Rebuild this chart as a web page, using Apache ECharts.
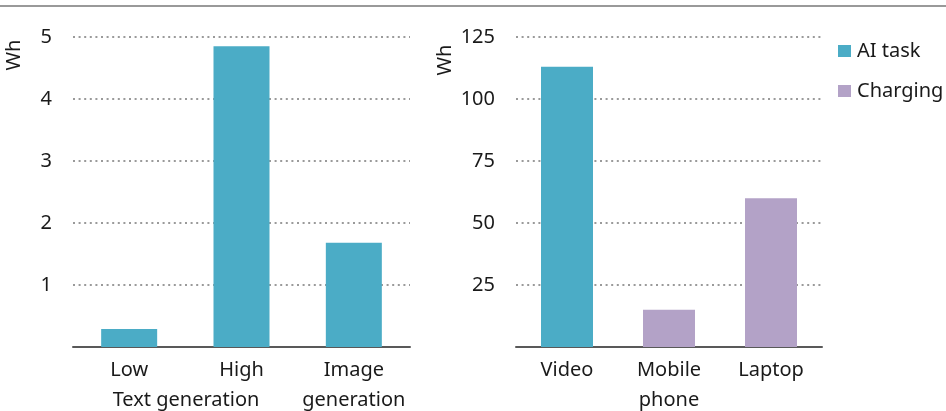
<!DOCTYPE html>
<html>
<head>
<meta charset="utf-8">
<script src="https://cdn.jsdelivr.net/npm/echarts@6/dist/echarts.min.js"></script>
<style>
  html, body { margin: 0; padding: 0; background: #fff; }
  #chart { width: 946px; height: 411px; }
</style>
</head>
<body>
<div id="chart"></div>
<script>
// left panel: AI task energy per query
const textCategories = ['Low', 'High', 'Image\ngeneration']
const textValues = [0.29, 4.85, 1.68]

// right panel: video vs device charging
const compareCategories = ['Video', 'Mobile\nphone', 'Laptop']
const aiTaskValues = [113, '-', '-']
const chargingValues = ['-', 15, 60]

const leftTicks = [0, 1, 2, 3, 4, 5]
const rightTicks = [0, 25, 50, 75, 100, 125]

const teal = '#4bacc6'
const purple = '#b3a2c7'
const font = 'Noto Sans'
const fontSize = 20

const chart = echarts.init(document.getElementById('chart'))

const yAxisBase = (ticks) => ({
  type: 'value',
  min: ticks[0],
  max: ticks[ticks.length - 1],
  interval: ticks[1] - ticks[0],
  axisLine: { show: false },
  axisTick: { show: false },
  axisLabel: {
    color: '#1a1a1a',
    fontSize: fontSize,
    fontFamily: font,
    margin: 21,
    formatter: (v) => (v === 0 ? '' : v),
  },
  splitLine: {
    lineStyle: { color: '#9a9a9a', width: 2, type: [2, 3.6] },
  },
})

const xAxisBase = (cats) => ({
  type: 'category',
  data: cats,
  axisTick: { show: false },
  axisLine: { lineStyle: { color: '#595959', width: 2 } },
  axisLabel: {
    color: '#1a1a1a',
    fontSize: fontSize,
    fontFamily: font,
    margin: 8,
    lineHeight: 30,
    interval: 0,
  },
})

chart.setOption({
  animation: false,
  grid: [
    { left: 73, right: 536, top: 37, bottom: 64, outerBoundsMode: 'none', containLabel: false },
    { left: 516, right: 124, top: 37, bottom: 64, outerBoundsMode: 'none', containLabel: false },
  ],
  legend: {
    data: ['AI task', 'Charging'],
    orient: 'vertical',
    left: 838,
    top: 38,
    padding: 0,
    icon: 'rect',
    itemWidth: 13,
    itemHeight: 12,
    itemGap: 14,
    textStyle: { fontSize: fontSize, fontFamily: font, color: '#1a1a1a', lineHeight: 26, padding: [0, 0, 0, 1] },
  },
  xAxis: [
    { ...xAxisBase(textCategories), gridIndex: 0 },
    { ...xAxisBase(compareCategories), gridIndex: 1 },
  ],
  yAxis: [
    { ...yAxisBase(leftTicks), gridIndex: 0 },
    { ...yAxisBase(rightTicks), gridIndex: 1 },
  ],
  series: [
    {
      name: 'AI task',
      type: 'bar',
      xAxisIndex: 0,
      yAxisIndex: 0,
      data: textValues,
      barWidth: 56,
      itemStyle: { color: teal },
    },
    {
      name: 'AI task',
      type: 'bar',
      xAxisIndex: 1,
      yAxisIndex: 1,
      data: aiTaskValues,
      barWidth: 52,
      barGap: '-100%',
      itemStyle: { color: teal },
    },
    {
      name: 'Charging',
      type: 'bar',
      xAxisIndex: 1,
      yAxisIndex: 1,
      data: chargingValues,
      barWidth: 52,
      barGap: '-100%',
      itemStyle: { color: purple },
    },
  ],
  graphic: [
    {
      type: 'line',
      shape: { x1: 0, y1: 6, x2: 946, y2: 6 },
      style: { stroke: '#999', lineWidth: 2 },
    },
    {
      type: 'text',
      x: 14,
      y: 55,
      rotation: Math.PI / 2,
      style: { text: 'Wh', fontSize: fontSize, fontFamily: font, fill: '#1a1a1a', align: 'center', verticalAlign: 'middle' },
    },
    {
      type: 'text',
      x: 445,
      y: 60,
      rotation: Math.PI / 2,
      style: { text: 'Wh', fontSize: fontSize, fontFamily: font, fill: '#1a1a1a', align: 'center', verticalAlign: 'middle' },
    },
    {
      type: 'text',
      x: 186,
      y: 400,
      style: { text: 'Text generation', fontSize: fontSize, fontFamily: font, fill: '#1a1a1a', align: 'center', verticalAlign: 'middle' },
    },
  ],
})
</script>
</body>
</html>
